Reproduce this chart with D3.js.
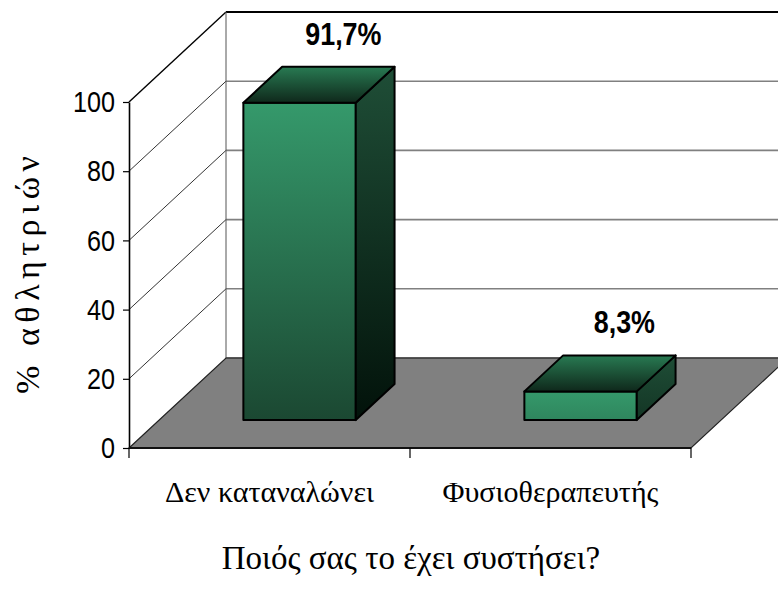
<!DOCTYPE html>
<html>
<head>
<meta charset="utf-8">
<script src="https://cdn.jsdelivr.net/npm/d3@7"></script>
<style>
  body { margin: 0; background: #fff; }
  svg { display: block; }
</style>
</head>
<body>
<svg id="chart" width="778" height="589"></svg>
<script>
// ---- data ----
const categories = ["Δεν καταναλώνει", "Φυσιοθεραπευτής"];
const values = [91.7, 8.3];
const valueLabels = ["91,7%", "8,3%"];
const yTicks = [0, 20, 40, 60, 80, 100];
const yTitle = "%  αθλητριών";
const xTitle = "Ποιός σας το έχει συστήσει?";

// ---- layout ----
const svg = d3.select("#chart");
const x = d3.scaleBand().domain(categories).range([129, 691]);
const y = d3.scaleLinear().domain([0, 100]).range([448, 102]);
const DX = 97, DY = -90;          // full depth of the 3-D floor
const Z0 = 0.31, Z1 = 0.71;       // depth slab occupied by the bars
const barW = x.bandwidth() * 0.4;
const P = (px, v, z) => [px + z * DX, y(v) + z * DY];
const pts = arr => arr.map(p => p.join(",")).join(" ");

const x0 = x.range()[0], x1 = x.range()[1];
const serif = "'Liberation Serif', 'Times New Roman', serif";
const sans = "'Liberation Sans', Arial, sans-serif";

// squeeze sans text horizontally to a condensed face
function condense(sel, k = 0.82) {
  sel.each(function () {
    const w = this.getComputedTextLength();
    d3.select(this).attr("textLength", w * k).attr("lengthAdjust", "spacingAndGlyphs");
  });
}

const defs = svg.append("defs");

// ---- walls ----
const walls = svg.append("g");
// back-wall gridlines
walls.selectAll("line.grid")
  .data(yTicks.filter(v => v > 0 && v < 100))
  .join("line")
  .attr("x1", P(x0, 0, 1)[0]).attr("x2", 800)
  .attr("y1", d => P(x0, d, 1)[1]).attr("y2", d => P(x0, d, 1)[1])
  .attr("stroke", "#808080").attr("stroke-width", 1.6);
// top edge of the back wall
walls.append("line")
  .attr("x1", P(x0, 100, 1)[0]).attr("x2", 800)
  .attr("y1", P(x0, 100, 1)[1]).attr("y2", P(x0, 100, 1)[1])
  .attr("stroke", "#000").attr("stroke-width", 2);
// side-wall gridlines running back from the value axis
walls.selectAll("line.side")
  .data(yTicks.filter(v => v > 0))
  .join("line")
  .attr("x1", d => P(x0, d, 0)[0]).attr("y1", d => P(x0, d, 0)[1])
  .attr("x2", d => P(x0, d, 1)[0]).attr("y2", d => P(x0, d, 1)[1])
  .attr("stroke", d => d === 100 ? "#000" : "#333")
  .attr("stroke-width", d => d === 100 ? 1.4 : 1);
// back-left corner edge
walls.append("line")
  .attr("x1", P(x0, 0, 1)[0]).attr("y1", P(x0, 0, 1)[1])
  .attr("x2", P(x0, 100, 1)[0]).attr("y2", P(x0, 100, 1)[1])
  .attr("stroke", "#555").attr("stroke-width", 1);

// ---- floor ----
svg.append("polygon")
  .attr("points", pts([P(x0, 0, 0), P(x0, 0, 1), P(x1, 0, 1), P(x1, 0, 0)]))
  .attr("fill", "#808080").attr("stroke", "#222").attr("stroke-width", 1.2);
svg.append("line")
  .attr("x1", P(x0, 0, 1)[0]).attr("y1", P(x0, 0, 1)[1])
  .attr("x2", 800).attr("y2", P(x0, 0, 1)[1])
  .attr("stroke", "#444").attr("stroke-width", 1.4);

// ---- bars ----
const bars = categories.map((c, i) => {
  const cx = x(c) + x.bandwidth() / 2;
  return { c, i, v: values[i], l: cx - barW / 2, r: cx + barW / 2, cx };
});

function grad(id, ya, yb, c0, c1) {
  const g = defs.append("linearGradient").attr("id", id)
    .attr("gradientUnits", "userSpaceOnUse")
    .attr("x1", 0).attr("x2", 0).attr("y1", ya).attr("y2", yb);
  g.append("stop").attr("offset", 0).attr("stop-color", c0);
  g.append("stop").attr("offset", 1).attr("stop-color", c1);
  return `url(#${id})`;
}

const gBars = svg.append("g")
  .attr("stroke", "#000").attr("stroke-width", 2).attr("stroke-linejoin", "round");

bars.forEach(b => {
  const fTop = P(b.l, b.v, Z0)[1], fBot = P(b.l, 0, Z0)[1];
  const span = Math.max(fBot - fTop, 120);
  // front face
  gBars.append("polygon")
    .attr("points", pts([P(b.l, b.v, Z0), P(b.r, b.v, Z0), P(b.r, 0, Z0), P(b.l, 0, Z0)]))
    .attr("fill", grad("front" + b.i, fTop, fTop + span, "#35996b", "#1b4832"));
  // right side face
  const sTop = P(b.r, b.v, Z1)[1];
  gBars.append("polygon")
    .attr("points", pts([P(b.r, b.v, Z0), P(b.r, b.v, Z1), P(b.r, 0, Z1), P(b.r, 0, Z0)]))
    .attr("fill", grad("side" + b.i, sTop, sTop + span + (Z1 - Z0) * -DY, "#1f4e37", "#02120a"));
  // top face
  gBars.append("polygon")
    .attr("points", pts([P(b.l, b.v, Z0), P(b.l, b.v, Z1), P(b.r, b.v, Z1), P(b.r, b.v, Z0)]))
    .attr("fill", grad("top" + b.i, sTop, fTop, "#287a52", "#0f281b"));
});

// value labels above each bar
svg.append("g").selectAll("text")
  .data(bars)
  .join("text")
  .attr("x", d => P(d.cx, d.v, Z1)[0] + 5)
  .attr("y", d => P(d.cx, d.v, Z1)[1] - 22)
  .attr("text-anchor", "middle")
  .attr("font-family", sans).attr("font-weight", "bold").attr("font-size", 32)
  .attr("fill", "#000")
  .text((d, i) => valueLabels[i])
  .call(condense, 0.84);

// ---- value axis ----
const yAxis = svg.append("g")
  .attr("transform", `translate(${x0},0)`)
  .call(d3.axisLeft(y).tickValues(yTicks).tickSize(6).tickSizeOuter(0).tickPadding(8));
yAxis.select(".domain").attr("stroke", "#000").attr("stroke-width", 1.6);
yAxis.selectAll(".tick line").attr("stroke", "#000").attr("stroke-width", 1.2);
yAxis.selectAll(".tick text")
  .attr("font-family", sans).attr("font-size", 30).attr("fill", "#000")
  .call(condense, 0.84);

// ---- category axis ----
svg.append("line")
  .attr("x1", x0).attr("x2", x1).attr("y1", y(0)).attr("y2", y(0))
  .attr("stroke", "#111").attr("stroke-width", 2);
const edges = categories.map(c => x(c)).concat([x1]);
svg.append("g").selectAll("line")
  .data(edges)
  .join("line")
  .attr("x1", d => d).attr("x2", d => d)
  .attr("y1", y(0)).attr("y2", y(0) + 10)
  .attr("stroke", "#000").attr("stroke-width", 1.2);
const xAxis = svg.append("g")
  .attr("transform", `translate(0,${y(0)})`)
  .call(d3.axisBottom(x).tickSize(0).tickPadding(33));
xAxis.select(".domain").remove();
xAxis.selectAll(".tick text")
  .attr("font-family", serif).attr("font-size", 30).attr("fill", "#000");

// ---- axis titles ----
svg.append("text")
  .attr("transform", `translate(39,${(y(0) + y(100)) / 2}) rotate(-90)`)
  .attr("text-anchor", "middle")
  .attr("font-family", serif).attr("font-size", 34)
  .attr("textLength", 238).attr("lengthAdjust", "spacing")
  .text(yTitle);

svg.append("text")
  .attr("x", 411).attr("y", 569)
  .attr("text-anchor", "middle")
  .attr("font-family", serif).attr("font-size", 33)
  .text(xTitle);
</script>
</body>
</html>
